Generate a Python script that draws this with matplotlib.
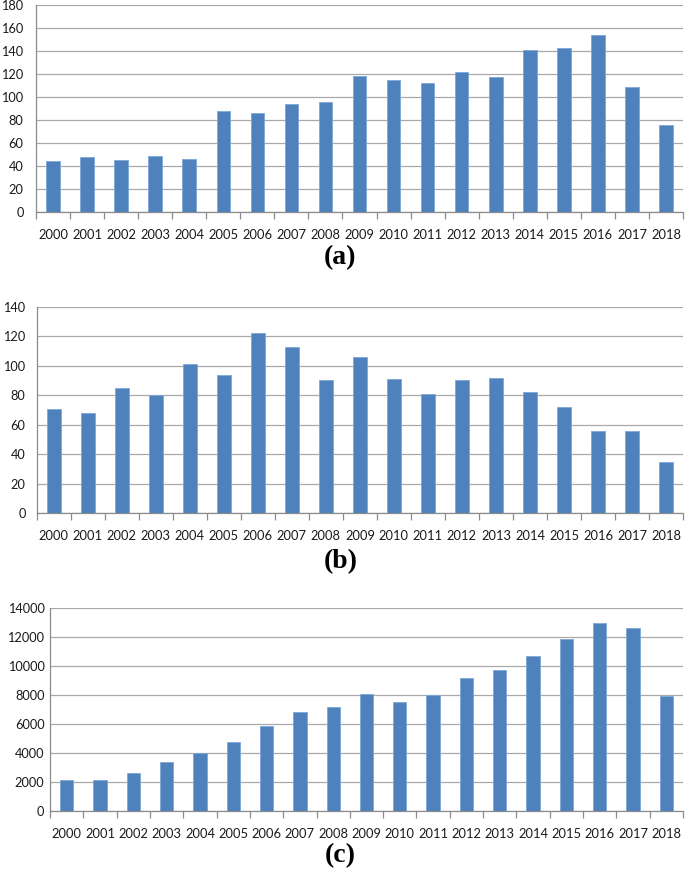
import numpy as np
import matplotlib.pyplot as plt
from matplotlib.ticker import MultipleLocator

years = [str(y) for y in range(2000, 2019)]

# panel (a)
counts_a = [44, 48, 45, 49, 46, 88, 86, 94, 96, 118, 115, 112, 122, 117, 141, 143, 154, 109, 76]
# panel (b)
counts_b = [71, 68, 85, 80, 101, 94, 122, 113, 90, 106, 91, 81, 90, 92, 82, 72, 56, 56, 35]
# panel (c)
counts_c = [2120, 2120, 2620, 3360, 3980, 4790, 5870, 6830, 7200, 8050, 7500, 7980,
            9150, 9700, 10700, 11850, 12950, 12600, 7960]

BAR_COLOR = "#4f81bd"
GRID_COLOR = "#a9a9a9"
TICK_FONT = "Lato"


def draw_panel(fig, rect, values, ymax, ystep, label, label_y, ypad):
    ax = fig.add_axes(rect)
    x = np.arange(len(years))
    ax.bar(x, values, width=0.4, color=BAR_COLOR, edgecolor="#7ea6d6",
           linewidth=0.6, zorder=3)
    ax.set_xlim(-0.5, len(years) - 0.5)
    ax.set_ylim(0, ymax)
    ax.yaxis.set_major_locator(MultipleLocator(ystep))
    ax.grid(axis="y", color=GRID_COLOR, linewidth=0.9, zorder=0)
    ax.set_xticks(x)
    ax.set_xticklabels(years, fontsize=9.3, family=TICK_FONT, color="#1a1a1a")
    ax.set_xticks(np.arange(-0.5, len(years)), minor=True)
    ax.tick_params(axis="x", which="major", length=0, pad=12)
    ax.tick_params(axis="x", which="minor", length=5, color="#8c8c8c", width=0.9)
    ax.tick_params(axis="y", length=0, pad=ypad)
    for t in ax.get_yticklabels():
        t.set_fontsize(9.2)
        t.set_family(TICK_FONT)
        t.set_color("#1a1a1a")
    for side in ("top", "right"):
        ax.spines[side].set_visible(False)
    for side in ("left", "bottom"):
        ax.spines[side].set_color("#8c8c8c")
        ax.spines[side].set_linewidth(0.9)
    fig.text(0.497, label_y, label, ha="center", va="center",
             fontsize=20, fontweight="bold", family="Liberation Serif")
    return ax


fig = plt.figure(figsize=(6.85, 8.71), dpi=100)

draw_panel(fig, [0.0526, 0.7566, 0.9445, 0.2377], counts_a, 180, 20,
           "(a)", 1 - 258 / 871, 9)
draw_panel(fig, [0.0536, 0.4107, 0.9435, 0.2372], counts_b, 140, 20,
           "(b)", 1 - 562 / 871, 8)
draw_panel(fig, [0.0730, 0.0689, 0.9241, 0.2331], counts_c, 14000, 2000,
           "(c)", 1 - 856 / 871, 4)

fig.savefig("out.png", dpi=100)
